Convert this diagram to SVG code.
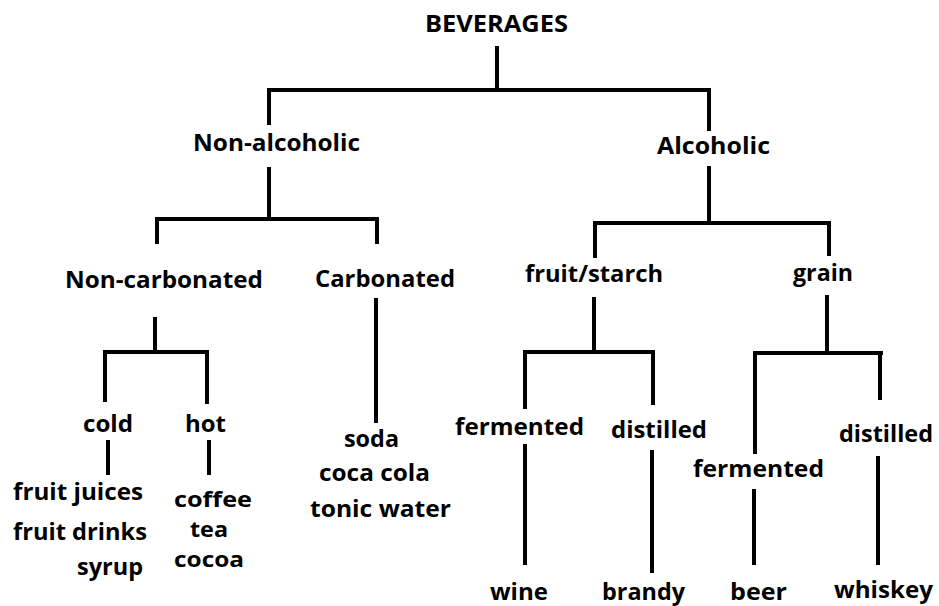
<svg xmlns="http://www.w3.org/2000/svg" width="939" height="606" viewBox="0 0 939 606">
<style>
text{font-family:"Open Sans","Noto Sans","Liberation Sans",sans-serif;font-weight:700;font-size:23px;fill:#000}
.sm{font-size:22px}
.c line{stroke:#000;stroke-width:4;stroke-linecap:square}
</style>
<rect width="939" height="606" fill="#fff"/>
<g class="c" id="connectors">
<line x1="497" y1="48" x2="497" y2="90"/>
<line x1="269" y1="90" x2="709" y2="90"/>
<line x1="269" y1="90" x2="269" y2="123"/>
<line x1="709" y1="90" x2="709" y2="129"/>
<line x1="269" y1="169" x2="269" y2="219"/>
<line x1="157" y1="219" x2="377" y2="219"/>
<line x1="157" y1="219" x2="157" y2="242"/>
<line x1="377" y1="219" x2="377" y2="242"/>
<line x1="709" y1="168" x2="709" y2="223"/>
<line x1="595" y1="223" x2="829" y2="223"/>
<line x1="595" y1="223" x2="595" y2="256"/>
<line x1="829" y1="223" x2="829" y2="254"/>
<line x1="155" y1="319" x2="155" y2="352"/>
<line x1="105" y1="352" x2="207" y2="352"/>
<line x1="105" y1="352" x2="105" y2="400"/>
<line x1="207" y1="352" x2="207" y2="402"/>
<line x1="376" y1="300" x2="376" y2="421"/>
<line x1="108" y1="442" x2="108" y2="473"/>
<line x1="209" y1="442" x2="209" y2="473"/>
<line x1="594" y1="299" x2="594" y2="352"/>
<line x1="525" y1="352" x2="653" y2="352"/>
<line x1="525" y1="352" x2="525" y2="407"/>
<line x1="653" y1="352" x2="653" y2="403"/>
<line x1="827" y1="297" x2="827" y2="353"/>
<line x1="755" y1="353" x2="881" y2="353"/>
<line x1="755" y1="353" x2="755" y2="452"/>
<line x1="880" y1="353" x2="880" y2="398"/>
<line x1="525" y1="446" x2="525" y2="563"/>
<line x1="652" y1="452" x2="652" y2="571"/>
<line x1="754" y1="491" x2="754" y2="563"/>
<line x1="878" y1="458" x2="878" y2="563"/>
</g>
<g id="beverages"><text x="425" y="32" textLength="143" lengthAdjust="spacingAndGlyphs">BEVERAGES</text></g>
<g id="non-alcoholic"><text x="193" y="151" textLength="167" lengthAdjust="spacingAndGlyphs">Non-alcoholic</text></g>
<g id="alcoholic"><text x="657" y="154" textLength="113" lengthAdjust="spacingAndGlyphs">Alcoholic</text></g>
<g id="non-carbonated"><text x="65" y="288" textLength="198" lengthAdjust="spacingAndGlyphs">Non-carbonated</text></g>
<g id="carbonated"><text x="315" y="287" textLength="140" lengthAdjust="spacingAndGlyphs">Carbonated</text></g>
<g id="fruit-starch"><text x="525" y="282" textLength="138" lengthAdjust="spacingAndGlyphs">fruit/starch</text></g>
<g id="grain"><text x="793" y="281" textLength="60" lengthAdjust="spacingAndGlyphs">grain</text></g>
<g id="cold"><text x="83" y="432" textLength="50" lengthAdjust="spacingAndGlyphs">cold</text></g>
<g id="hot"><text x="185" y="432" textLength="41" lengthAdjust="spacingAndGlyphs">hot</text></g>
<g id="cold-items">
<text x="13" y="500" textLength="130" lengthAdjust="spacingAndGlyphs">fruit juices</text>
<text x="13" y="540" textLength="134" lengthAdjust="spacingAndGlyphs">fruit drinks</text>
<text x="77" y="575" textLength="66" lengthAdjust="spacingAndGlyphs">syrup</text>
</g>
<g id="hot-items" class="sm">
<text class="sm" x="174" y="507" textLength="78" lengthAdjust="spacingAndGlyphs">coffee</text>
<text class="sm" x="190" y="537" textLength="38" lengthAdjust="spacingAndGlyphs">tea</text>
<text class="sm" x="174" y="567" textLength="70" lengthAdjust="spacingAndGlyphs">cocoa</text>
</g>
<g id="carbonated-items">
<text x="344" y="447" textLength="55" lengthAdjust="spacingAndGlyphs">soda</text>
<text x="319" y="481" textLength="111" lengthAdjust="spacingAndGlyphs">coca cola</text>
<text x="310" y="517" textLength="141" lengthAdjust="spacingAndGlyphs">tonic water</text>
</g>
<g id="fermented-fruit"><text x="455" y="435" textLength="129" lengthAdjust="spacingAndGlyphs">fermented</text></g>
<g id="distilled-fruit"><text x="611" y="438" textLength="96" lengthAdjust="spacingAndGlyphs">distilled</text></g>
<g id="fermented-grain"><text x="693" y="477" textLength="131" lengthAdjust="spacingAndGlyphs">fermented</text></g>
<g id="distilled-grain"><text x="839" y="442" textLength="94" lengthAdjust="spacingAndGlyphs">distilled</text></g>
<g id="wine"><text x="490" y="600" textLength="58" lengthAdjust="spacingAndGlyphs">wine</text></g>
<g id="brandy"><text x="602" y="600" textLength="83" lengthAdjust="spacingAndGlyphs">brandy</text></g>
<g id="beer"><text x="730" y="600" textLength="57" lengthAdjust="spacingAndGlyphs">beer</text></g>
<g id="whiskey"><text x="834" y="598" textLength="99" lengthAdjust="spacingAndGlyphs">whiskey</text></g>
</svg>
